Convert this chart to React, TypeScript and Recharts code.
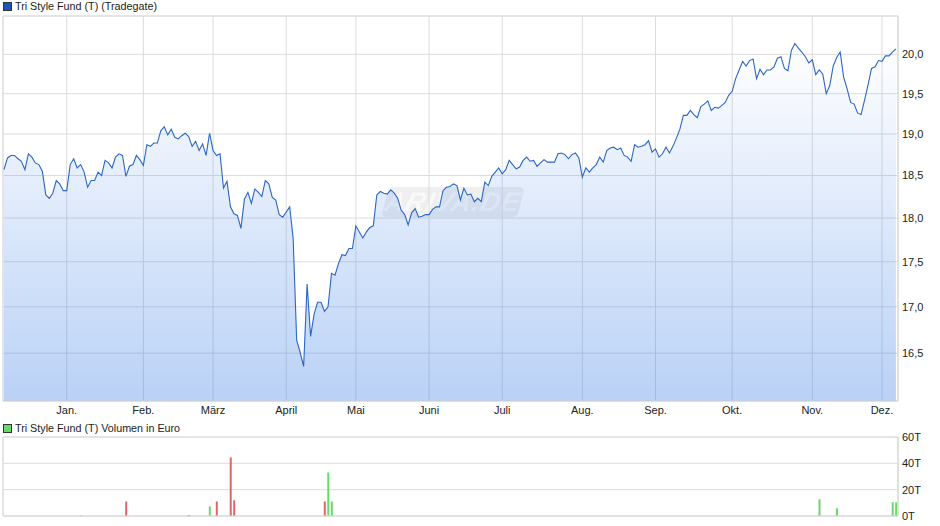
import { ComposedChart, Area, Bar, Cell, XAxis, YAxis, CartesianGrid, ReferenceArea } from 'recharts'

const FONT = '"Liberation Sans", Arial, sans-serif'
const GRID = '#DCDCDC'
const LINIE = '#2B66C4'
const ROT = '#DC6767'
const GRUEN = '#69D869'

const kurse = [
  18.57, 18.71, 18.74, 18.74, 18.7, 18.67, 18.57, 18.76, 18.72, 18.65,
  18.63, 18.55, 18.27, 18.23, 18.29, 18.44, 18.4, 18.32, 18.32, 18.63,
  18.7, 18.59, 18.63, 18.54, 18.36, 18.44, 18.44, 18.54, 18.5, 18.68,
  18.65, 18.59, 18.72, 18.76, 18.74, 18.49, 18.61, 18.63, 18.74, 18.69,
  18.62, 18.87, 18.85, 18.89, 18.89, 19.04, 19.09, 18.99, 19.06, 18.96,
  18.94, 18.98, 19.01, 18.97, 18.85, 18.91, 18.8, 18.88, 18.74, 19.01,
  18.8, 18.74, 18.76, 18.35, 18.43, 18.13, 18.05, 18.03, 17.88, 18.22,
  18.3, 18.17, 18.34, 18.3, 18.25, 18.44, 18.4, 18.24, 18.21, 18.04,
  18.01, 18.07, 18.13, 17.76, 16.64, 16.51, 16.36, 17.25, 16.68, 16.92,
  17.05, 17.05, 16.95, 17.0, 17.37, 17.35, 17.48, 17.58, 17.57, 17.65,
  17.65, 17.91, 17.84, 17.77, 17.84, 17.89, 17.91, 18.27, 18.31, 18.29,
  18.28, 18.33, 18.29, 18.23, 18.09, 18.04, 17.92, 18.06, 18.11, 18.01,
  18.02, 18.04, 18.04, 18.1, 18.13, 18.13, 18.32, 18.36, 18.37, 18.4,
  18.38, 18.21, 18.35, 18.27, 18.28, 18.19, 18.23, 18.19, 18.42, 18.38,
  18.49, 18.54, 18.59, 18.52, 18.57, 18.68, 18.63, 18.58, 18.6, 18.68,
  18.72, 18.67, 18.68, 18.61, 18.65, 18.69, 18.66, 18.66, 18.66, 18.76,
  18.77, 18.75, 18.7, 18.75, 18.77, 18.71, 18.48, 18.59, 18.54, 18.59,
  18.63, 18.72, 18.66, 18.8, 18.83, 18.84, 18.81, 18.83, 18.74, 18.72,
  18.67, 18.87, 18.84, 18.85, 18.87, 18.92, 18.78, 18.82, 18.72, 18.76,
  18.84, 18.77, 18.85, 18.95, 19.06, 19.23, 19.23, 19.29, 19.24, 19.2,
  19.34, 19.37, 19.41, 19.29, 19.33, 19.32, 19.35, 19.39, 19.48, 19.53,
  19.69, 19.8, 19.91, 19.85, 19.92, 19.94, 19.69, 19.81, 19.74, 19.8,
  19.8, 19.84, 19.95, 19.97, 19.82, 19.79, 20.05, 20.14, 20.08, 20.03,
  19.97, 19.89, 19.93, 19.74, 19.8, 19.75, 19.5, 19.6, 19.85, 19.96,
  20.03, 19.71, 19.56, 19.39, 19.37, 19.26, 19.24, 19.42, 19.61, 19.82,
  19.84, 19.92, 19.91, 19.98, 19.98, 20.03, 20.07,
]

const monatsTage = [18, 40, 60, 81, 101, 122, 143, 166, 187, 209, 232, 252]
const monate = ['Jan.', 'Feb.', 'März', 'April', 'Mai', 'Juni', 'Juli', 'Aug.', 'Sep.', 'Okt.', 'Nov.', 'Dez.']

const kursTicks = [16.5, 17, 17.5, 18, 18.5, 19, 19.5, 20]
const volumenTicks = [0, 20, 40, 60]

const volumenTage = [22, 35, 53, 59, 61, 65, 66, 92, 93, 94, 234, 239, 255, 256]
const volumen = [0.5, 11.1, 0.7, 7.3, 11.1, 44.5, 11.9, 11.1, 33, 11.1, 12.7, 5.8, 10.4, 10.4]
const volumenFarben = [GRUEN, ROT, ROT, GRUEN, ROT, ROT, ROT, ROT, GRUEN, GRUEN, GRUEN, GRUEN, GRUEN, GRUEN]

const kursDaten = kurse.map((kurs, tag) => ({ tag, kurs }))
const volumenDaten = volumenTage.map((tag, i) => ({ tag, wert: volumen[i] }))

const X_DOMAIN: [number, number] = [-0.29, 256.6]

const monatsLabel = (tag: number) => monate[monatsTage.indexOf(tag)] ?? ''
const tickStyle = { fontSize: 11, fontFamily: FONT, fill: '#222222' }

function Legende({ top, farbe, text }: { top: number; farbe: string; text: string }) {
  return (
    <div style={{ position: 'absolute', left: 3, top, height: 12, display: 'flex', alignItems: 'center', fontFamily: FONT, fontSize: 10.75, color: '#222' }}>
      <span style={{ width: 7, height: 7, background: farbe, border: '1px solid #333', marginRight: 3 }} />
      {text}
    </div>
  )
}

// liegt hinter den Charts, die Flaeche ist ja halbtransparent
function Wasserzeichen() {
  return (
    <div
      style={{
        position: 'absolute',
        left: 385,
        top: 187,
        width: 136,
        height: 30,
        background: '#EFEFEF',
        borderRadius: 5,
        transform: 'skewX(-14deg)',
        textAlign: 'center',
        fontFamily: FONT,
        fontWeight: 'bold',
        fontStyle: 'italic',
        fontSize: 27,
        lineHeight: '30px',
        letterSpacing: 1,
        color: '#F9F9F9',
      }}
    >
      ARIVA.DE
    </div>
  )
}

export default function App() {
  return (
    <div style={{ position: 'absolute', left: 0, top: 0, width: 940, height: 526, background: '#fff', overflow: 'hidden' }}>
      <Wasserzeichen />
      <Legende top={0} farbe="#1A55B9" text="Tri Style Fund (T) (Tradegate)" />
      <Legende top={422} farbe={GRUEN} text="Tri Style Fund (T) Volumen in Euro" />

      <div style={{ position: 'absolute', left: 0, top: 0 }}>
        <ComposedChart width={940} height={425} data={kursDaten} margin={{ top: 16, right: 0, bottom: 0, left: 3 }}>
          <defs>
            <linearGradient id="kursFlaeche" x1="0" y1="0" x2="0" y2="1">
              <stop offset="0%" stopColor="#3278E6" stopOpacity={0} />
              <stop offset="100%" stopColor="#3278E6" stopOpacity={0.34} />
            </linearGradient>
          </defs>
          <CartesianGrid stroke={GRID} />
          <ReferenceArea x1={X_DOMAIN[0]} x2={X_DOMAIN[1]} y1={16} y2={20.5} fill="none" stroke={GRID} />
          <XAxis
            dataKey="tag"
            type="number"
            domain={X_DOMAIN}
            ticks={monatsTage}
            tickFormatter={monatsLabel}
            interval={0}
            height={24}
            tick={tickStyle}
            tickLine={false}
            tickSize={0}
            axisLine={{ stroke: GRID }}
            tickMargin={5}
            allowDataOverflow
          />
          <YAxis
            orientation="right"
            scale="log"
            domain={[16, 20.5]}
            ticks={kursTicks}
            tickFormatter={(v: number) => v.toFixed(1).replace('.', ',')}
            interval={0}
            width={42}
            tick={tickStyle}
            tickLine={false}
            tickSize={0}
            axisLine={{ stroke: GRID }}
            tickMargin={4}
            allowDataOverflow
          />
          <Area
            dataKey="kurs"
            type="linear"
            stroke={LINIE}
            strokeWidth={1.1}
            fill="url(#kursFlaeche)"
            fillOpacity={1}
            dot={false}
            activeDot={false}
            isAnimationActive={false}
          />
        </ComposedChart>
      </div>

      <div style={{ position: 'absolute', left: 0, top: 422 }}>
        <ComposedChart width={940} height={104} data={volumenDaten} margin={{ top: 15, right: 0, bottom: 8, left: 3 }}>
          <CartesianGrid stroke={GRID} />
          <ReferenceArea x1={X_DOMAIN[0]} x2={X_DOMAIN[1]} y1={0} y2={60} fill="none" stroke={GRID} />
          <XAxis
            dataKey="tag"
            type="number"
            domain={X_DOMAIN}
            ticks={monatsTage}
            height={2}
            tick={false}
            tickLine={false}
            axisLine={{ stroke: GRID }}
            allowDataOverflow
          />
          <YAxis
            orientation="right"
            domain={[0, 60]}
            ticks={volumenTicks}
            tickFormatter={(v: number) => `${v}T`}
            interval={0}
            width={42}
            tick={tickStyle}
            tickLine={false}
            tickSize={0}
            axisLine={{ stroke: GRID }}
            tickMargin={4}
          />
          <Bar dataKey="wert" barSize={2} isAnimationActive={false}>
            {volumenDaten.map((_, i) => (
              <Cell key={i} fill={volumenFarben[i]} />
            ))}
          </Bar>
        </ComposedChart>
      </div>
    </div>
  )
}
